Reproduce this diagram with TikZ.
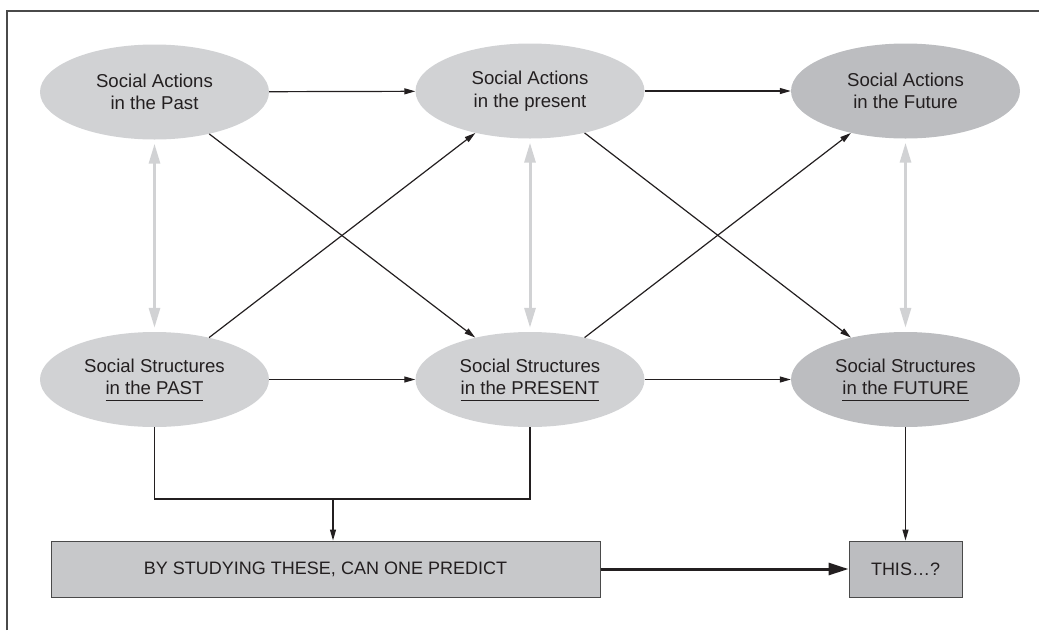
\documentclass[tikz,border=0pt]{standalone}
\usepackage{fontspec}
\setmainfont{Liberation Sans}
\usetikzlibrary{arrows.meta,shapes.geometric}
\definecolor{txt}{HTML}{231F20}
\definecolor{lightell}{HTML}{D1D2D4}
\definecolor{darkell}{HTML}{BCBDC0}
\definecolor{boxa}{HTML}{C7C8CA}
\definecolor{boxb}{HTML}{BCBDC0}
\definecolor{grayarrow}{HTML}{D1D2D4}
\definecolor{framecol}{HTML}{4A4A4A}
\newcommand{\ulx}[1]{$\underline{\hbox{#1\vphantom{p}}}$}
\tikzset{
  ell/.style={ellipse, fill=lightell, draw=none, minimum width=229pt, minimum height=95pt,
    inner sep=0pt, align=center, text=txt, font=\fontsize{18.6}{22.5}\selectfont},
  ellf/.style={ell, fill=darkell},
  boxnode/.style={rectangle, draw=framecol, line width=1pt, minimum height=56pt, inner sep=0pt,
    text=txt, font=\fontsize{18}{22}\selectfont},
  conn/.style={draw=txt, line width=1.2pt, -{Triangle[length=11pt,width=6pt]}},
  plain/.style={draw=txt, line width=1.2pt},
  twoway/.style={draw=grayarrow, line width=3pt,
    {Triangle[length=20pt,width=11pt]}-{Triangle[length=20pt,width=11pt]},
    shorten <=4pt, shorten >=4pt},
  thick arrow/.style={draw=txt, line width=3pt, -{Triangle[length=20pt,width=12pt]}}
}
\begin{document}
\begin{tikzpicture}[x=1pt,y=-1pt]
\useasboundingbox (0,0) rectangle (1039,630);
\draw[framecol, line width=1.5pt] (7,630) -- (7,11) -- (1039,11);

\node[ell]  (tl) at (154.5,92) {Social Actions\\in the Past};
\node[ell]  (tm) at (530,91)   {Social Actions\\in the present};
\node[ellf] (tr) at (905.5,91) {Social Actions\\in the Future};
\node[ell]  (bl) at (154.5,379.5) {Social Structures\\\ulx{in the PAST}};
\node[ell]  (bm) at (530,379.5)   {Social Structures\\\ulx{in the PRESENT}};
\node[ellf] (br) at (905.5,379.5) {Social Structures\\\ulx{in the FUTURE}};

\node[boxnode, fill=boxa, minimum width=549pt] (by) at (325.5,569) {BY STUDYING THESE, CAN ONE PREDICT};
\node[boxnode, fill=boxb, minimum width=113pt] (this) at (905.5,569) {THIS…?};

% horizontal arrows
\draw[conn] (tl) -- (tm);
\draw[conn] (tm) -- (tr);
\draw[conn] (bl) -- (bm);
\draw[conn] (bm) -- (br);

% diagonal arrows
\draw[conn] (tl) -- (bm);
\draw[conn] (bl) -- (tm);
\draw[conn] (tm) -- (br);
\draw[conn] (bm) -- (tr);

% gray two-way arrows
\draw[twoway] (tl) -- (bl);
\draw[twoway] (tm) -- (bm);
\draw[twoway] (tr) -- (br);

% bracket
\coordinate (j1) at (154.5,499);
\coordinate (j2) at (530,499);
\coordinate (jm) at (333,499);
\draw[plain] (bl.south) -- (j1) -- (j2) -- (bm.south);
\draw[conn] (jm) -- (jm |- by.north);
\draw[conn] (br.south) -- (this.north);

\draw[thick arrow] (by.east) -- (this.west);
\end{tikzpicture}
\end{document}
